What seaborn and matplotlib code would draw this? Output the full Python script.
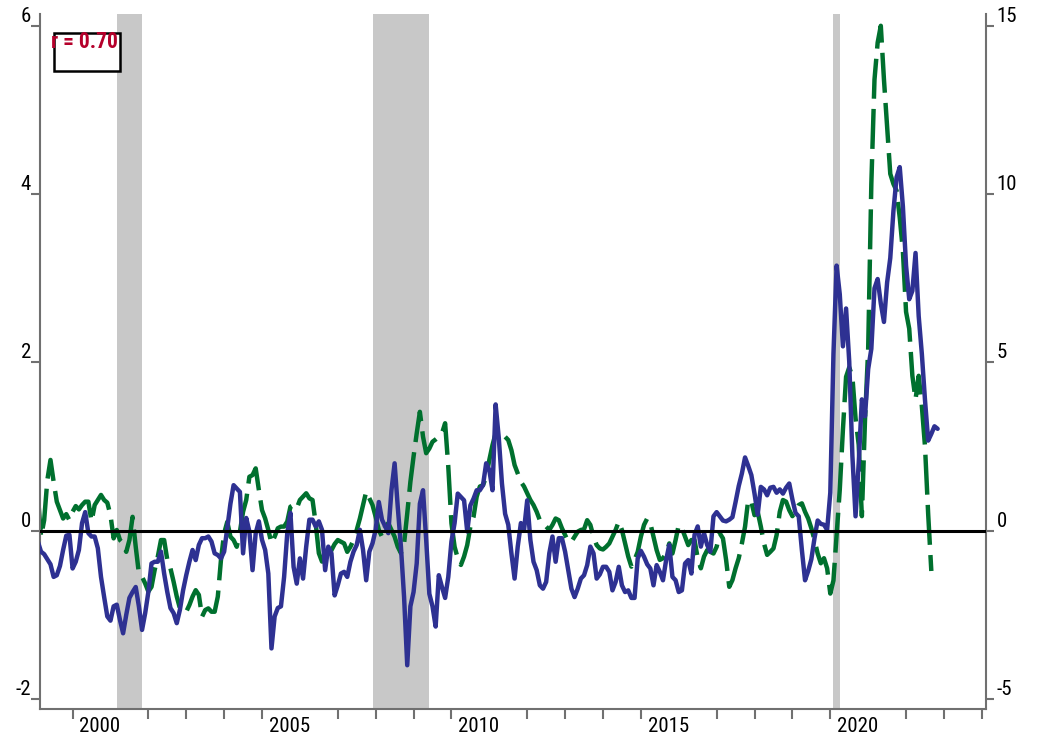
import numpy as np
import pandas as pd
import matplotlib
matplotlib.use("Agg")
import matplotlib.pyplot as plt
import seaborn as sns
from matplotlib.patches import Rectangle
from matplotlib import font_manager as fm

# ---------------- data (monthly, starting Feb 1999) ----------------
START_YEAR, START_MONTH = 1999, 2

# left-axis series (solid blue)
blue_values = [
    -0.13, -0.25, -0.28, -0.34, -0.40, -0.55, -0.53, -0.42, -0.23, -0.06,
    -0.05, -0.45, -0.37, -0.23, 0.09, 0.22, -0.03, -0.07, -0.07, -0.21,
    -0.55, -0.79, -1.02, -1.07, -0.90, -0.88, -1.06, -1.22, -1.00, -0.80,
    -0.73, -0.67, -0.90, -1.18, -0.98, -0.73, -0.39, -0.37, -0.37, -0.25,
    -0.51, -0.73, -0.92, -0.98, -1.10, -0.94, -0.71, -0.53, -0.37, -0.23,
    -0.35, -0.17, -0.09, -0.09, -0.07, -0.13, -0.27, -0.29, -0.33, -0.25,
    0.03, 0.32, 0.54, 0.50, 0.46, -0.27, 0.15, -0.01,
    -0.47, -0.03, 0.11, -0.11, -0.23, -0.51, -1.40, -1.02, -0.92, -0.90,
    -0.55, -0.03, 0.21, -0.43, -0.63, -0.33, -0.57, -0.19, 0.13, 0.13,
    0.05, 0.11, 0.01, -0.47, -0.19, -0.27, -0.77, -0.65, -0.51, -0.49,
    -0.55, -0.37, -0.25, -0.17, 0.01, -0.23, -0.59, -0.25, -0.15, 0.01,
    0.34, 0.13, 0.05, -0.03, 0.48, 0.80, 0.28, -0.19, -0.79, -1.60,
    -0.90, -0.73, -0.39, 0.32, 0.48, -0.11, -0.75, -0.90, -1.14, -0.53,
    -0.67, -0.80, -0.55, -0.13, 0.09, 0.44,
    0.40, 0.36, -0.01, 0.30, 0.38, 0.48, 0.48, 0.54, 0.80, 0.72,
    0.48, 1.50, 1.10, 0.56, 0.20, 0.07, -0.27, -0.57, -0.19, 0.09,
    0.01, 0.36, -0.11, -0.37, -0.47, -0.65, -0.69, -0.61, -0.27, -0.07,
    -0.37, -0.09, -0.09, -0.25, -0.47, -0.69, -0.79, -0.69, -0.57, -0.53,
    -0.41, -0.19, -0.27, -0.57, -0.52, -0.43, -0.43, -0.49, -0.71, -0.61,
    -0.43, -0.65, -0.73, -0.71, -0.80, -0.80, -0.33, -0.24, -0.31, -0.40,
    -0.45, -0.65, -0.41, -0.49, -0.59, -0.35, -0.17,
    -0.55, -0.59, -0.73, -0.71, -0.39, -0.35, -0.51, -0.05, 0.05, -0.19,
    -0.03, -0.17, -0.25, 0.17, 0.22, 0.17, 0.12, 0.11, 0.13, 0.16,
    0.34, 0.53, 0.68, 0.87, 0.77, 0.66, 0.44, 0.19, 0.52, 0.49,
    0.42, 0.51, 0.52, 0.45, 0.49, 0.44, 0.51, 0.56, 0.37, 0.21,
    0.17, -0.23, -0.59, -0.48, -0.34, -0.09, 0.12, 0.08, 0.07, 0.01,
    0.45, 2.10, 3.15, 2.81, 2.19, 2.64, 2.01, 0.89, 0.17, 0.80,
    1.56, 1.36, 1.92, 2.16, 2.88, 2.99, 2.70, 2.48, 2.95, 3.24,
    3.80, 4.20, 4.32, 3.85, 3.15, 2.75, 2.85, 3.30, 2.55, 2.10,
    1.55, 1.07, 1.15, 1.24, 1.21,
]

# right-axis series (dashed green)
green_values = [
    1.06, -0.18, 0.31, 1.50, 2.10, 1.45, 0.86, 0.61, 0.36, 0.49,
    0.31, 0.56, 0.73, 0.63, 0.76, 0.86, 0.86, 0.27, 0.76, 0.91,
    1.06, 0.91, 0.83, 0.46, -0.23, 0.02, -0.28, -0.38, -0.63, -0.28,
    0.41, -0.48, -1.27, -1.37, -1.57, -1.81, -1.67, -1.17, -0.77, -0.28,
    -0.28, -0.87, -1.12, -1.52, -1.96, -2.31, -2.41, -2.41, -2.21, -1.96,
    -1.77, -1.91, -2.56, -2.36, -2.31, -2.41, -2.41, -1.96, -0.87, -0.08,
    0.26, -0.18, -0.28, -0.48, -0.03, 0.56, 0.91, 1.60,
    1.65, 1.85, 1.21, 0.61, 0.36, 0.02, -0.38, -0.18, 0.07, 0.12,
    0.12, 0.27, 0.71, 0.76, 0.66, 0.91, 1.01, 1.11, 0.96, 0.91,
    0.22, -0.67, -0.92, -0.87, -0.77, -0.58, -0.40, -0.28, -0.33, -0.38,
    -0.63, -0.48, -0.28, 0.02, 0.36, 0.76, 1.16, 0.96, 0.76, 0.41,
    0.02, -0.18, 0.12, 0.22, 0.02, -0.18, -0.48, -0.67, -0.38, 0.51,
    1.45, 2.20, 2.89, 3.53, 2.79, 2.30, 2.44, 2.64, 2.71, 2.79,
    2.89, 3.19, 1.90, 0.22, -0.48, -0.82,
    -1.02, -0.77, -0.43, 0.12, 0.41, 1.01, 1.31, 1.35, 1.60, 2.10,
    2.54, 2.89, 2.94, 2.89, 2.79, 2.69, 2.39, 1.95, 1.70, 1.45,
    1.31, 1.11, 0.91, 0.76, 0.56, 0.31, 0.17, 0.12, 0.02, 0.17,
    0.36, 0.31, 0.07, -0.13, -0.33, -0.33, -0.18, -0.03, 0.02, 0.04,
    0.31, 0.17, -0.18, -0.43, -0.53, -0.56, -0.48, -0.38, -0.18, 0.02,
    0.27, 0.02, -0.38, -0.77, -1.07, -0.87, -0.63, -0.18, 0.17, 0.36,
    0.22, -0.18, -0.58, -0.87, -0.82, -0.68, -0.38,
    -0.68, -0.28, 0.17, 0.07, -0.18, -0.43, -0.28, -0.28, -0.82, -1.12,
    -0.77, -0.58, -0.63, -0.68, -0.48, -0.08, -0.23, -0.87, -1.67, -1.47,
    -1.12, -0.82, -0.38, 0.12, 0.91, 0.86, 0.46, 0.56, 0.12, -0.38,
    -0.72, -0.63, -0.53, -0.13, 0.56, 0.91, 0.86, 0.61, 0.43, 0.56,
    0.76, 0.81, 0.56, 0.36, 0.07, -0.28, -0.68, -0.97, -0.82, -1.12,
    -1.87, -1.48, -0.13, 1.21, 3.00, 4.57, 4.85, 4.57, 3.34, 2.55,
    0.43, 3.30, 5.40, 10.30, 13.40, 14.50, 15.00, 13.40, 12.00, 10.60,
    10.30, 10.10, 9.30, 8.30, 6.50, 6.00, 4.60, 3.90, 4.60, 3.70,
    2.50, 0.50, -1.20,
]

# recessions: (start year, month), (end year, month)
recessions = [((2001, 3), (2001, 11)), ((2007, 12), (2009, 6)), ((2020, 2), (2020, 4))]

left_ticks = [-2, 0, 2, 4, 6]
right_ticks = [-5, 0, 5, 10, 15]
year_labels = [2000, 2005, 2010, 2015, 2020]
corr_label = "r = 0.70"

BLUE = "#2E3192"
GREEN = "#00702E"
SHADE = "#C8C8C8"
RED = "#B5002B"
AXGRAY = "#707070"


def decimal_year(y, m):
    return y + (m - 1) / 12.0


def month_index(n):
    return START_YEAR + (START_MONTH - 1 + np.arange(n)) / 12.0


df_blue = pd.DataFrame({"t": month_index(len(blue_values)), "v": blue_values})
df_green = pd.DataFrame({"t": month_index(len(green_values)), "v": green_values})

sns.set_theme(style="white")

# pick a narrow font if one is installed
ttf = fm.fontManager.ttflist
names = {f.name for f in ttf}
dejavu_cond = any(f.name == "DejaVu Sans" and "ondensed" in f.fname for f in ttf)
if "Liberation Sans Narrow" in names:
    FAMILY, STRETCH, FS, BFS = "Liberation Sans Narrow", "normal", 15, 15.5
elif "Roboto Condensed" in names:
    FAMILY, STRETCH, FS, BFS = "Roboto Condensed", "normal", 15, 15.5
elif dejavu_cond:
    FAMILY, STRETCH, FS, BFS = "DejaVu Sans", "condensed", 13, 13.5
else:
    FAMILY, STRETCH, FS, BFS = "Liberation Sans", "normal", 12, 12
plt.rcParams["font.family"] = [FAMILY, "DejaVu Sans"]
plt.rcParams["font.stretch"] = STRETCH

W, H = 1038, 739
fig = plt.figure(figsize=(W / 100, H / 100), dpi=100)
L, R, T, B = 40, 986, 14, 709
ax = fig.add_axes([L / W, 1 - B / H, (R - L) / W, (B - T) / H])   # green / right scale
ax2 = ax.twinx()                                                   # blue / left scale

# recession shading
for s, e in recessions:
    ax.axvspan(decimal_year(*s), decimal_year(*e), color=SHADE, lw=0, zorder=0)

# green dashed (right scale)
sns.lineplot(data=df_green, x="t", y="v", ax=ax, color=GREEN, lw=3.2, zorder=2)
gl = ax.get_lines()[-1]
gl.set_dashes([9.0, 2.3])
gl.set_dash_capstyle("butt")

# blue solid (left scale)
sns.lineplot(data=df_blue, x="t", y="v", ax=ax2, color=BLUE, lw=3.2, zorder=3)
ax2.axhline(0, color="black", lw=2.2, zorder=5)

xmin, xmax = 1999.14, 2024.11
lmin, lmax = -2.12, 6.14
ax.set_xlim(xmin, xmax)
ax2.set_xlim(xmin, xmax)
ax2.set_ylim(lmin, lmax)
ax.set_ylim(lmin * 2.5, lmax * 2.5)

for a in (ax, ax2):
    a.set_xlabel("")
    a.set_ylabel("")
    a.grid(False)

# spines
for sp in ax.spines.values():
    sp.set_color(AXGRAY)
    sp.set_linewidth(1.5)
ax.spines["top"].set_visible(False)
for sp in ax2.spines.values():
    sp.set_visible(False)

# right axis ticks (green scale)
ax.yaxis.tick_right()
ax.set_yticks(right_ticks)
ax.set_yticklabels([str(v) for v in right_ticks])
ax.tick_params(axis="y", which="major", right=True, left=False, labelright=True,
               labelleft=False, direction="out", length=6, width=1.5,
               color=AXGRAY, pad=1.5, labelsize=FS, labelcolor="black")
for lab in ax.get_yticklabels():
    lab.set_verticalalignment("bottom")

# left axis ticks (blue scale)
ax2.yaxis.tick_left()
ax2.set_yticks(left_ticks)
ax2.set_yticklabels([str(v) for v in left_ticks])
ax2.tick_params(axis="y", which="major", left=True, right=False, labelleft=True,
                labelright=False, direction="out", length=6.5, width=1.5,
                color=AXGRAY, pad=0, labelsize=FS, labelcolor="black")
for lab in ax2.get_yticklabels():
    lab.set_verticalalignment("bottom")

# x axis: year tick marks, labels offset inside the year
tick_years = [y for y in range(2000, 2025) if (y - 2001) % 5 != 0]
ax.set_xticks(tick_years, minor=True)
ax.set_xticks([y + 0.72 for y in year_labels])
ax.set_xticklabels([str(y) for y in year_labels])
ax.tick_params(axis="x", which="minor", bottom=True, direction="out", length=7,
               width=1.5, color=AXGRAY)
ax.tick_params(axis="x", which="major", bottom=True, length=0, pad=5.5,
               labelsize=FS, labelcolor="black")
ax2.tick_params(axis="x", which="both", bottom=False, top=False, labelbottom=False)

# correlation box
bx0 = (54 - L) / (R - L)
bx1 = (120 - L) / (R - L)
by_top = (B - 33) / (B - T)
by_bot = (B - 71) / (B - T)
ax2.add_patch(Rectangle((bx0, by_bot), bx1 - bx0, by_top - by_bot, transform=ax2.transAxes,
                        facecolor="white", edgecolor="black", lw=1.8, zorder=10, clip_on=False))
ax2.text((51 - L) / (R - L), (B - 31) / (B - T), corr_label, transform=ax2.transAxes,
         ha="left", va="top", color=RED, fontsize=BFS, fontweight="bold", zorder=11)

fig.savefig("out.png", dpi=100)
